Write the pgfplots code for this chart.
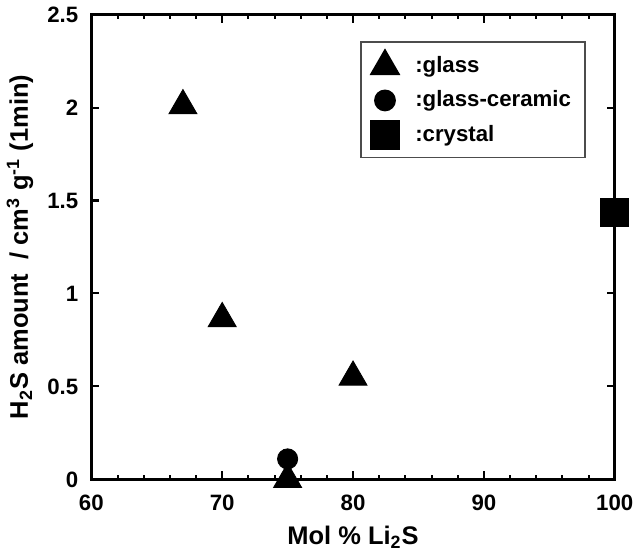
\documentclass[border=0pt]{standalone}
\usepackage{fontspec}
\setmainfont{Liberation Sans}
\usepackage{pgfplots}
\pgfplotsset{compat=1.18}
\begin{document}
\begin{tikzpicture}
\begin{axis}[
  scale only axis,
  width=259pt, height=230pt,
  xmin=60, xmax=100, ymin=0, ymax=2.5,
  xtick={60,70,80,90,100},
  minor x tick num=4,
  ytick={0,0.5,1,1.5,2,2.5},
  yticklabels={0,0.5,1,1.5,2,2.5},
  tick align=inside,
  major tick length=4pt,
  minor tick length=2pt,
  axis line style={line width=1.3pt},
  every tick/.style={line width=1pt,black},
  tick label style={font=\bfseries\fontsize{11}{13}\selectfont},
  xticklabel style={yshift=-4pt},
  yticklabel style={xshift=-3pt},
  /pgf/number format/assume math mode=true,
  xlabel={\bfseries Mol \% Li\textsubscript{2}S},
  ylabel={\bfseries H\textsubscript{2}S amount\ \ / cm\textsuperscript{3} g\textsuperscript{-1} (1min)},
  label style={font=\fontsize{12.6}{15}\selectfont},
  xlabel style={yshift=-1pt},
  ylabel style={yshift=0pt},
  clip=false,
  legend style={at={(0.945,0.943)}, anchor=north east, draw=black!70, line width=0.8pt,
    font=\bfseries\fontsize{11}{13}\selectfont, row sep=3.5pt, inner xsep=5pt, inner ysep=4pt},
  legend cell align=left,
]
\addplot[only marks, mark=triangle*, mark size=8pt, black] coordinates {
 (67,2.01) (70,0.865) (75,0.0) (80,0.55)};
\addlegendentry{\hspace{6pt}:glass}
\addplot[only marks, mark=*, mark size=5pt, black] coordinates {
 (75,0.11)};
\addlegendentry{\hspace{6pt}:glass-ceramic}
\addplot[only marks, mark=square*, mark size=7pt, black] coordinates {
 (100,1.435)};
\addlegendentry{\hspace{6pt}:crystal}
\end{axis}
\end{tikzpicture}
\end{document}
